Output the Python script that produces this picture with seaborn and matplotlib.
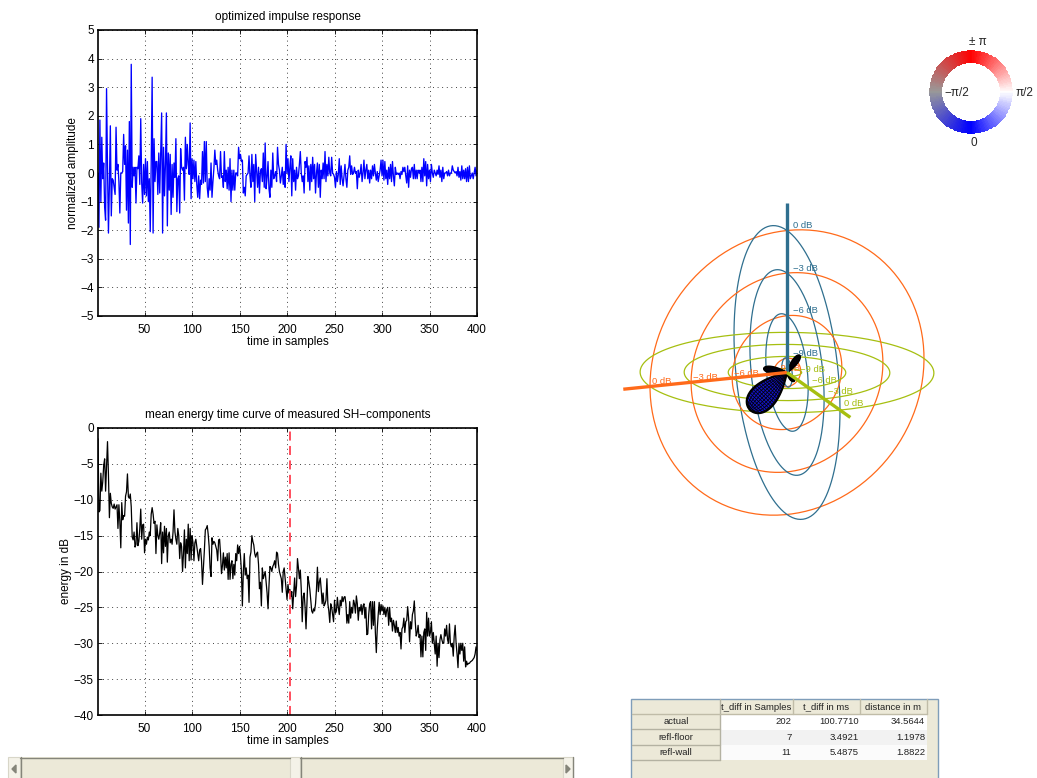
"""
impulse response / energy time curve GUI view
"""
import numpy as np
import pandas as pd
import matplotlib
matplotlib.use('Agg')
import matplotlib.pyplot as plt
import seaborn as sns
from matplotlib.colors import LinearSegmentedColormap
from matplotlib.patches import Rectangle

# values
impulse = [
    0.0, -1.9, 1.85, -1.0, 1.25, -0.2, 0.35, -1.2, -1.65, 2.95, 0.2, -2.1, -0.4, 1.65, -1.5, -0.2, -0.25, -0.5, -0.75, 1.6,
    0.1, 0.3, -0.3, -1.4, 0.0, 0.0, 0.05, 1.35, 0.3, 0.95, -1.3, 0.8, -1.75, 1.8, -2.5, 3.8, -0.5, 0.2, -0.1, 0.2,
    -1.05, 0.2, 0.15, 0.6, -0.4, 1.9, -0.35, -1.05, 0.3, -0.75, 0.5, -0.8, 0.4, -1.0, -0.2, -2.05, 0.3, 3.35, -2.1, 1.2,
    -0.3, 0.4, 0.4, -0.75, 0.7, -0.7, 0.7, 2.1, -2.1, 0.9, -0.8, 0.3, 2.1, -1.85, 0.7, -0.6, 0.65, -1.45, 0.3, -0.85,
    0.35, -0.15, 1.2, -1.35, -0.2, -0.1, -1.4, 0.85, 0.2, 0.1, 0.2, -0.95, 1.25, 0.15, 1.0, 0.3, -0.05, 1.75, -0.9, 0.5,
    -0.2, 0.45, -0.3, 0.4, -0.4, -0.85, -0.1, -0.9, -0.25, -0.4, 0.75, -0.35, 1.1, -0.3, 1.1, -0.5, -0.85, -0.2, -0.6, 0.35,
    -0.85, -0.3, 0.15, 0.8, 0.3, 0.45, 0.1, -0.1, -0.2, 0.75, -0.15, -0.1, -0.5, 0.75, -0.3, 0.1, -0.55, 0.2, -0.6, 0.5,
    -1.0, 0.1, -0.6, 0.1, -0.6, 0.0, 0.0, -0.1, 0.9, 0.5, 0.65, 0.4, 0.45, -0.7, -0.5, -0.8, -0.1, -0.05, 0.0, 0.6,
    -0.1, -0.5, 0.65, -0.3, 0.3, -1.0, 0.65, 0.1, -0.5, 0.2, -0.7, 0.05, 0.15, -0.3, 0.7, -0.5, 1.05, -0.55, -0.15, 0.4,
    -0.55, -0.85, 0.1, -0.5, 0.7, -0.2, -0.1, 0.05, -0.3, 0.9, 0.3, 0.1, -0.35, -0.1, 0.2, -0.4, 0.05, -0.5, 1.0, 0.0,
    0.5, -0.3, 0.2, 0.6, -0.8, 0.5, -0.3, 0.1, -0.6, 0.2, -0.2, -0.1, 0.3, 0.75, 0.0, -0.3, -0.1, -0.7, 0.4, 0.2,
    0.55, -0.3, 0.25, -0.6, 0.3, -0.3, 0.55, -0.2, 0.3, -0.7, 0.0, 0.35, -0.5, 0.3, -0.85, 0.1, -0.2, 0.35, -0.2, 0.75,
    -0.3, 0.3, -0.1, 0.55, 0.0, -0.1, 0.55, 0.0, -0.05, -0.15, -0.5, 0.05, -0.3, -0.05, 0.5, -0.4, 0.25, -0.2, -0.45, -0.1,
    0.3, -0.2, -0.5, 0.1, 0.2, 0.6, -0.05, 0.25, -0.05, 0.0, 0.2, 0.0, 0.05, -0.55, 0.1, -0.15, 0.0, 0.3, -0.3, 0.0,
    0.45, -0.2, 0.1, 0.3, -0.2, 0.1, -0.35, 0.1, -0.2, 0.25, -0.1, 0.3, 0.0, -0.25, 0.05, -0.3, -0.1, 0.1, 0.45, -0.1,
    0.45, -0.25, 0.4, -0.2, 0.1, -0.4, 0.2, -0.2, 0.3, -0.3, 0.4, -0.1, -0.45, 0.2, -0.05, 0.0, -0.05, 0.0, -0.2, 0.05,
    -0.05, 0.2, 0.05, 0.2, -0.1, -0.35, 0.25, -0.5, 0.1, -0.15, 0.15, 0.2, -0.2, 0.3, -0.2, 0.1, -0.2, 0.1, 0.0, 0.1,
    -0.3, 0.2, -0.3, 0.5, -0.1, 0.4, -0.45, 0.3, -0.2, 0.1, -0.3, 0.3, 0.0, -0.15, 0.1, 0.0, -0.1, 0.1, -0.05, 0.25,
    -0.15, 0.1, -0.3, 0.2, -0.2, 0.0, 0.0, 0.05, -0.1, 0.1, -0.1, 0.0, 0.0, 0.25, 0.1, 0.05, 0.0, 0.05, -0.1, 0.2,
    -0.15, 0.05, -0.25, 0.25, -0.2, 0.1, -0.2, 0.15, -0.3, 0.2, -0.3, 0.25, -0.2, -0.1, 0.0, -0.2, 0.0, 0.2, -0.1, 0.1,
]
energy = [
    -1.5, -11.7, -11.5, -6.3, -8.8, -7.5, -5.2, -4.3, -8.8, -5.5, -1.9, -6.5, -12.5, -9.1, -10.5, -11.0, -11.2, -10.6, -11.3, -11.0,
    -10.7, -14.0, -10.7, -13.0, -16.7, -10.4, -12.8, -12.2, -12.3, -9.5, -8.9, -6.4, -9.6, -9.8, -9.2, -11.0, -15.2, -15.6, -14.5, -16.6,
    -16.2, -13.2, -16.4, -15.8, -14.0, -11.3, -15.5, -13.5, -13.4, -17.4, -15.5, -16.2, -15.2, -15.6, -14.5, -15.0, -12.0, -11.1, -12.0, -13.3,
    -13.0, -17.5, -13.5, -15.0, -15.5, -14.6, -13.2, -18.9, -14.5, -17.4, -13.7, -16.5, -14.0, -18.7, -15.0, -14.5, -16.0, -15.5, -16.2, -14.5,
    -11.4, -14.5, -15.5, -16.2, -14.0, -15.0, -18.2, -16.0, -16.5, -20.0, -17.5, -14.2, -19.5, -15.5, -17.5, -13.4, -18.5, -14.0, -18.4, -15.0,
    -16.0, -18.5, -16.0, -15.5, -16.5, -17.5, -18.5, -17.0, -16.8, -18.5, -21.8, -19.5, -17.0, -14.2, -14.0, -13.6, -14.8, -16.5, -19.5, -20.7,
    -15.3, -16.2, -15.8, -16.0, -16.5, -17.0, -18.5, -15.6, -15.5, -17.5, -20.3, -19.2, -17.4, -19.8, -18.0, -19.5, -17.5, -21.1, -17.4, -21.1,
    -19.0, -18.5, -21.0, -19.0, -20.5, -17.5, -18.5, -16.3, -17.5, -16.5, -17.8, -20.0, -24.8, -20.0, -17.5, -20.5, -19.5, -21.0, -20.5, -24.3,
    -18.0, -17.3, -15.0, -15.8, -16.3, -17.5, -18.0, -17.5, -17.3, -19.0, -22.4, -21.5, -24.8, -19.5, -21.0, -20.5, -20.0, -21.5, -23.0, -25.2,
    -22.0, -19.3, -19.5, -20.0, -19.3, -19.0, -18.5, -19.5, -17.3, -17.5, -19.0, -20.0, -20.5, -21.0, -22.9, -20.0, -19.5, -21.0, -22.5, -23.9,
    -21.8, -23.0, -22.5, -23.5, -22.8, -25.2, -23.0, -20.9, -23.5, -22.0, -18.2, -19.5, -21.0, -19.8, -22.5, -27.0, -23.5, -23.0, -25.0, -28.0,
    -24.5, -20.7, -21.5, -22.5, -24.0, -25.5, -25.8, -25.2, -25.5, -24.5, -22.5, -19.4, -22.8, -21.5, -20.9, -22.5, -24.5, -23.0, -24.8, -24.5,
    -24.0, -21.0, -24.5, -25.5, -27.1, -24.5, -25.0, -26.0, -27.0, -24.0, -25.8, -25.5, -23.6, -25.0, -26.0, -24.0, -24.8, -23.5, -24.2, -23.6,
    -23.5, -24.5, -27.2, -26.0, -27.2, -24.2, -26.5, -25.0, -25.8, -24.0, -24.5, -25.8, -23.4, -24.5, -26.8, -25.0, -25.5, -24.6, -26.0, -24.8,
    -24.5, -26.5, -25.0, -28.8, -28.7, -26.0, -24.5, -24.2, -28.0, -24.2, -27.5, -24.2, -28.5, -31.3, -28.0, -26.0, -24.3, -26.0, -24.6, -25.5,
    -24.8, -26.0, -25.0, -26.3, -25.3, -25.0, -27.5, -25.0, -27.0, -26.5, -28.3, -26.8, -27.5, -28.5, -26.9, -28.5, -27.8, -29.0, -28.5, -30.8,
    -28.0, -27.7, -26.5, -28.5, -27.0, -26.8, -24.9, -26.5, -29.8, -27.0, -28.0, -26.0, -25.5, -24.1, -27.0, -29.0, -28.5, -27.5, -29.2, -28.8,
    -31.9, -29.0, -31.9, -28.5, -28.0, -31.0, -25.7, -29.0, -26.5, -29.0, -28.5, -27.0, -30.0, -28.5, -30.0, -31.5, -29.0, -33.2, -30.0, -32.0,
    -29.5, -28.8, -29.5, -30.0, -30.0, -28.0, -29.0, -27.5, -29.5, -30.0, -27.3, -30.0, -30.5, -30.0, -31.8, -29.0, -27.5, -30.0, -31.5, -33.4,
    -30.0, -31.5, -30.0, -31.0, -30.0, -32.5, -30.5, -33.3, -32.5, -33.0, -32.8, -32.8, -32.6, -32.5, -32.4, -32.2, -32.0, -31.5, -30.5, -31.0,
]
marker_sample = 203

ring_db = [0, -3, -6, -9]
table_columns = ['t_diff in Samples', 't_diff in ms', 'distance in m']
table_rows = ['actual', 'refl-floor', 'refl-wall']
table_values = [
    ['202', '100.7710', '34.5644'],
    ['7', '3.4921', '1.1978'],
    ['11', '5.4875', '1.8822'],
]

W, H = 1037, 778
ORANGE = '#ff6a1a'
TEAL = '#2f6f8f'
GREEN = '#a6bf10'
PANEL = '#ece9d8'

sns.set_style('white')
plt.rcParams['font.family'] = ['Liberation Sans', 'DejaVu Sans']
plt.rcParams['font.size'] = 8


def px_axes(fig, left, top, right, bottom):
    return fig.add_axes([left / W, 1 - bottom / H, (right - left) / W, (bottom - top) / H])


def style_axes(ax, ylim, yticks, title, ylabel, ylabel_x):
    ax.set_xlim(1, 400)
    ax.set_ylim(*ylim)
    ax.set_xticks(range(50, 401, 50))
    ax.set_yticks(yticks)
    ax.tick_params(direction='in', length=3, width=0.6, top=True, right=True,
                   labelsize=8.5, pad=3, color='black', labelcolor='black', bottom=True, left=True)
    ax.tick_params(axis='x', pad=5.5)
    ax.grid(True, color='black', linewidth=0.6, linestyle=(0, (1, 4.5)))
    for s in ax.spines.values():
        s.set_color('black')
        s.set_linewidth(1.2)
    ax.set_title(title, fontsize=8.5, pad=7, color='black')
    ax.set_xlabel('time in samples', fontsize=8.5, labelpad=0.5, color='black')
    ax.set_ylabel(ylabel, fontsize=8.5, color='black')
    ax.yaxis.set_label_coords(ylabel_x, 0.5)


fig = plt.figure(figsize=(W / 100, H / 100), dpi=100, facecolor='white')

# upper plot
ax1 = px_axes(fig, 98, 30, 477, 316)
df1 = pd.DataFrame({'sample': np.arange(1, len(impulse) + 1), 'value': impulse})
sns.lineplot(data=df1, x='sample', y='value', color='#0000ff', linewidth=0.95, estimator=None, ax=ax1)
style_axes(ax1, (-5, 5), range(-5, 6), 'optimized impulse response', 'normalized amplitude', -0.05)

# lower plot
ax2 = px_axes(fig, 98, 428, 477, 715)
df2 = pd.DataFrame({'sample': np.arange(1, len(energy) + 1), 'value': energy})
sns.lineplot(data=df2, x='sample', y='value', color='black', linewidth=0.9, estimator=None, ax=ax2)
ax2.axvline(marker_sample, color='#ff4050', linewidth=1.3, linestyle=(0, (5, 3)))
style_axes(ax2, (-40, 0), range(-40, 1, 5), 'mean energy time curve of measured SH\u2212components',
           'energy in dB', -0.068)

# everything on the right is drawn in pixel coordinates
ov = fig.add_axes([0, 0, 1, 1], facecolor='none')
ov.set_xlim(0, W)
ov.set_ylim(H, 0)
ov.axis('off')

# phase colour wheel
wc = np.array([971, 92])
wheel_cmap = LinearSegmentedColormap.from_list('phase', ['#0000ff', '#ffffff', '#ff0000', '#999999', '#0000ff'])
phi = np.linspace(0, 2 * np.pi, 181)
rad = np.array([29, 41.7])
PP, RR = np.meshgrid(phi, rad)
ov.pcolormesh(wc[0] + RR * np.sin(PP), wc[1] + RR * np.cos(PP),
              ((phi[:-1] + phi[1:]) / 2 / (2 * np.pi))[None, :], cmap=wheel_cmap, vmin=0, vmax=1,
              shading='flat', rasterized=True)
ov.text(978, 42, '\u00b1 \u03c0', ha='center', va='center', fontsize=8.5)
ov.text(957, 92.5, '\u2212\u03c0/2', ha='center', va='center', fontsize=8.5)
ov.text(1025, 92.5, '\u03c0/2', ha='center', va='center', fontsize=8.5)
ov.text(974, 143, '0', ha='center', va='center', fontsize=8.5)

# balloon projection: screen vectors of the three 0 dB axes
c3 = np.array([787, 372.5])
ex = np.array([-137, 14])
ey = np.array([53, 37.6])
ez = np.array([0, -142])
t = np.linspace(0, 2 * np.pi, 240)


def ring(a, b, r, color):
    pts = c3 + r * (np.outer(np.cos(t), a) + np.outer(np.sin(t), b))
    ov.plot(pts[:, 0], pts[:, 1], color=color, linewidth=0.9)


for db in ring_db:
    r = 1 + db / 10
    ring(ex, ez, r, ORANGE)
    ring(ey, ez, r, TEAL)
    ring(ex, ey, r, GREEN)
    label = f'{db} dB'.replace('-', '\u2212')
    for vec, col, off in [(ex, ORANGE, (2, -5)), (ez, TEAL, (6, -5)), (ey, GREEN, (4 if db > -9 else 8, -7))]:
        p = c3 + r * vec
        ov.text(p[0] + off[0], p[1] + off[1], label, color=col, fontsize=6.8, ha='left', va='center')


def lobe(dx, dy, half_w):
    # teardrop from the centre, widest near the far end
    L = np.hypot(dx, dy)
    d = np.array([dx, dy]) / L
    n = np.array([-d[1], d[0]])
    s = np.linspace(0, 2 * np.pi, 120)
    u = (1 - np.cos(s)) / 2
    v = np.sin(s) * np.sqrt(u)
    outline = c3 + L * np.outer(u, d) + half_w * np.outer(v, n)
    ov.fill(outline[:, 0], outline[:, 1], facecolor='#1414c8', edgecolor='black', linewidth=1.4, zorder=3)
    ss = np.linspace(0, np.pi, 60)
    uu = (1 - np.cos(ss)) / 2
    vv = np.sin(ss) * np.sqrt(uu)
    for frac in np.linspace(-0.9, 0.9, 9):
        p = c3 + L * np.outer(uu, d) + half_w * frac * np.outer(vv, n)
        ov.plot(p[:, 0], p[:, 1], color='black', linewidth=0.55, zorder=4)
    for k in np.linspace(0.06, 0.96, 20):
        i = np.array([k, k])
        w = np.sin(np.arccos(1 - 2 * k)) * np.sqrt(k) * half_w
        p = c3 + L * np.outer(i, d) + np.outer(np.array([-w, w]), n)
        ov.plot(p[:, 0], p[:, 1], color='black', linewidth=0.55, zorder=4)


lobe(-37, 37.5, 17)
lobe(12.5, -17, 3.5)
lobe(-23, -4, 4)
lobe(7, 8.5, 2.5)

for vec, col in [(ez, TEAL), (ex, ORANGE), (ey, GREEN)]:
    end = c3 + 1.195 * vec
    ov.plot([c3[0], end[0]], [c3[1], end[1]], color=col, linewidth=2.4, solid_capstyle='butt', zorder=5)

# table panel
ov.add_patch(Rectangle((631, 698.5), 306.5, 90, facecolor=PANEL, edgecolor='#7f9db9', linewidth=1))
col_edges = [720, 793, 860, 926.5]
row_edges = [699, 714, 729.5, 745, 760]
row_bg = ['white', '#f2f2f2', '#fbfbfb']
for i, name in enumerate(table_rows):
    y0, y1 = row_edges[i + 1], row_edges[i + 2]
    ov.add_patch(Rectangle((720, y0), col_edges[-1] - 720, y1 - y0, facecolor=row_bg[i], edgecolor='none'))
    ov.plot([632, 720], [y1 - 0.5, y1 - 0.5], color='#b4b2a2', linewidth=1)
    ov.text(676, (y0 + y1) / 2, name, ha='center', va='center', fontsize=6.8, color='#222222')
    for j, val in enumerate(table_values[i]):
        ov.text(col_edges[j + 1] - 1.5, (y0 + y1) / 2, val, ha='right', va='center', fontsize=6.8, color='#222222')
ov.plot([720, 720], [699, 760], color='#b4b2a2', linewidth=1)
for j, name in enumerate(table_columns):
    ov.text((col_edges[j] + col_edges[j + 1]) / 2, 707, name, ha='center', va='center',
            fontsize=6.8, color='#222222')
    ov.plot([col_edges[j + 1]] * 2, [699, 714], color='#c0bca8', linewidth=1)
ov.plot([632, 926.5], [713.5, 713.5], color='#c0bca8', linewidth=1)

# scroll bar along the bottom
for x0, x1 in [(20, 290), (300, 563)]:
    ov.add_patch(Rectangle((x0, 757), x1 - x0, 25, facecolor=PANEL, edgecolor='none'))
    ov.plot([x0, x1], [757.5, 757.5], color='#85857a', linewidth=1)
    ov.plot([x0 + 0.5, x0 + 0.5], [757, 778], color='#85857a', linewidth=1)
for x0, x1 in [(8, 20), (290, 300), (563, 573)]:
    ov.add_patch(Rectangle((x0, 757), x1 - x0, 25, facecolor='#f4f2e8', edgecolor='#d8d6c8', linewidth=0.8))
ov.plot([573, 573], [757, 778], color='#85857a', linewidth=1)
ov.fill([16, 12, 16], [765, 769, 773], color='#85857a')
ov.fill([566, 570, 566], [765, 769, 773], color='#85857a')

fig.savefig('out.png', dpi=100)
